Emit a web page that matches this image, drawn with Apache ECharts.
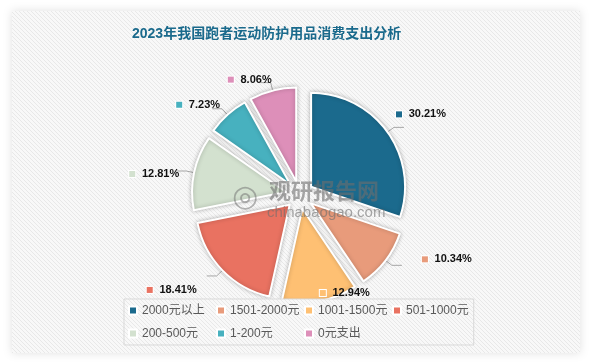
<!DOCTYPE html>
<html><head><meta charset="utf-8">
<script src="https://cdn.jsdelivr.net/npm/echarts@6/dist/echarts.min.js"></script>
<style>html,body{margin:0;padding:0;background:#fff}#c{width:590px;height:363px}</style>
</head><body><div id="c"></div>
<script>
const titleText = '2023年我国跑者运动防护用品消费支出分析';
const categories = ['2000元以上','1501-2000元','1001-1500元','501-1000元','200-500元','1-200元','0元支出'];
const values = [30.21, 10.34, 12.94, 18.41, 12.81, 7.23, 8.06];
const colors = ['#1b6a8d','#e89b7b','#fec073','#e97261','#d3e1cf','#47b1bf','#dd8fb9'];

// label nudges (layout only)
const labelNudge = [[-13,-13],[15,-6],[-5,-8],[-5,14],[8,3],[13,-4],[16,-3]];

// hatch pattern
const pc = document.createElement('canvas');
pc.width = 4; pc.height = 4;
const px = pc.getContext('2d');
px.fillStyle = '#f8f8f8'; px.fillRect(0,0,4,4);
px.fillStyle = '#e8e8e8';
for (let i=0;i<4;i++){ px.fillRect(i,i,1,1); }
const hatch = {image: pc, repeat:'repeat'};

const chart = echarts.init(document.getElementById('c'), null, {renderer:'canvas'});
const rich = { v: { fontSize: 11, fontWeight: 'bold', color: '#111', fontFamily: 'Liberation Sans, Arial, sans-serif' } };
colors.forEach((c,i)=>{ rich['i'+i] = { width: 6, height: 6, backgroundColor: c, borderColor:'#fff', borderWidth: 1 }; });

const data = categories.map((n,i)=>({
  name: n, value: values[i], selected: true,
  itemStyle: { color: colors[i] },
  labelLine: i === 2 ? { length: 0, length2: 0 } : undefined
}));

const wm = 'rgba(110,110,110,0.6)';
chart.setOption({
  animation: false,
  graphic: [
    { type:'rect', z: -10, shape:{x:12,y:11,width:568,height:342},
      style:{ fill: hatch, shadowBlur: 10, shadowColor:'rgba(0,0,0,0.12)' }, silent:true },
    { type:'text', z: 100, silent:true, x:232, y:183, style:{ text:'◎', fill:'rgba(110,110,110,0.5)', font:'30px "DejaVu Sans"' } },
    { type:'text', z: 100, silent:true, x:269, y:180, style:{ text:'观研报告网', fill:wm, font:'bold 22px "Noto Sans CJK SC"' } },
    { type:'text', z: 100, silent:true, x:267, y:205, style:{ text:'chinabaogao.com', fill:wm, font:'15px "Liberation Sans"' } }
  ],
  title: {
    text: titleText, left: 127, top: 22,
    textStyle: { color:'#1a6a8c', fontSize: 14, fontWeight:'bold', fontFamily:'"Liberation Sans","Noto Sans CJK SC",sans-serif' }
  },
  legend: {
    data: categories.map((n,i)=>({ name:n, textStyle: i===3 ? {width: 60} : {} })),
    left: 124, top: 299, width: 345,
    orient:'horizontal',
    itemWidth: 8, itemHeight: 8, icon:'rect', itemGap: 0,
    padding: [0,5,0,4],
    borderColor:'#d9d9d9', borderWidth: 1,
    backgroundColor: hatch,
    z: 10,
    textStyle: { fontSize: 12, color:'#595959', width: 74, lineHeight: 23,
      fontFamily:'"Liberation Sans","Noto Sans CJK SC",sans-serif' }
  },
  series: [{
    type:'pie',
    center: ['50.8%','53.7%'],
    radius: 94,
    selectedMode: 'multiple',
    selectedOffset: 14,
    startAngle: 90,
    data: data,
    itemStyle: { borderColor:'#fff', borderWidth: 2, shadowBlur: 4, shadowColor:'rgba(0,0,0,0.25)' },
    select: { itemStyle: { borderColor:'#fff', borderWidth: 2 } },
    emphasis: { disabled: true },
    label: {
      show: true, position:'outside',
      formatter: p => '{i'+p.dataIndex+'|}  {v|'+p.value.toFixed(2)+'%}',
      rich: rich
    },
    labelLayout: p => ({ dx: labelNudge[p.dataIndex][0], dy: labelNudge[p.dataIndex][1], hideOverlap: false }),
    labelLine: { show:true, length: 8, length2: 10, lineStyle:{ color:'#a6a6a6', width:1 } }
  }]
});
</script></body></html>
